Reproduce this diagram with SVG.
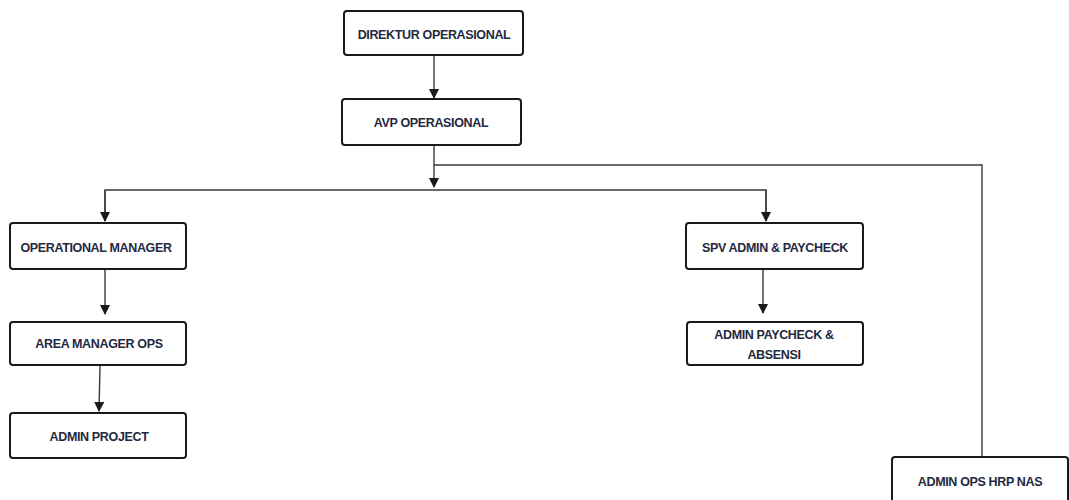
<svg xmlns="http://www.w3.org/2000/svg" width="1069" height="500" viewBox="0 0 1069 500">
<style>
.box{fill:#fff;stroke:#1a1a1a;stroke-width:2}
.t{font-family:"Liberation Sans",Arial,sans-serif;font-weight:bold;font-size:12.5px;fill:#1f2940;text-anchor:middle;letter-spacing:-0.35px}
.c{fill:none;stroke:#3a3a3a;stroke-width:1.4}
</style>
<defs>
<marker id="ah" markerWidth="10" markerHeight="10" refX="9" refY="5" orient="auto" markerUnits="userSpaceOnUse">
<path d="M0,0 L10,5 L0,10 Z" fill="#1a1a1a"/>
</marker>
</defs>
<rect width="1069" height="500" fill="#fff"/>
<g id="connectors">
<line class="c" x1="434" y1="56" x2="434" y2="98" marker-end="url(#ah)"/>
<line class="c" x1="434" y1="146" x2="434" y2="187" marker-end="url(#ah)"/>
<polyline class="c" points="434,165 982,165 982,457"/>
<polyline class="c" points="105,221 105,190 766,190 766,221"/>
<line class="c" x1="105" y1="190" x2="105" y2="221" marker-end="url(#ah)"/>
<line class="c" x1="766" y1="190" x2="766" y2="221" marker-end="url(#ah)"/>
<line class="c" x1="105" y1="270" x2="105" y2="314" marker-end="url(#ah)"/>
<line class="c" x1="100" y1="366" x2="99" y2="411" marker-end="url(#ah)"/>
<line class="c" x1="763" y1="270" x2="763" y2="313" marker-end="url(#ah)"/>
</g>
<g id="direktur">
<rect class="box" x="344" y="11" width="179" height="44" rx="3"/>
<text class="t" x="434" y="39">DIREKTUR OPERASIONAL</text>
</g>
<g id="avp">
<rect class="box" x="342" y="99" width="179" height="46" rx="3"/>
<text class="t" x="431" y="127">AVP OPERASIONAL</text>
</g>
<g id="om">
<rect class="box" x="10" y="223" width="176" height="46" rx="3"/>
<text class="t" x="96" y="252">OPERATIONAL MANAGER</text>
</g>
<g id="area">
<rect class="box" x="10" y="322" width="176" height="43" rx="3"/>
<text class="t" x="99" y="348">AREA MANAGER OPS</text>
</g>
<g id="adminproject">
<rect class="box" x="10" y="413" width="176" height="45" rx="3"/>
<text class="t" x="99" y="441">ADMIN PROJECT</text>
</g>
<g id="spv">
<rect class="box" x="686" y="223" width="177" height="46" rx="3"/>
<text class="t" x="775" y="252">SPV ADMIN &amp; PAYCHECK</text>
</g>
<g id="adminpaycheck">
<rect class="box" x="687" y="322" width="176" height="43" rx="3"/>
<text class="t" x="774" y="339">ADMIN PAYCHECK &amp;</text>
<text class="t" x="774" y="359">ABSENSI</text>
</g>
<g id="adminops">
<rect class="box" x="892" y="457" width="176" height="50" rx="3"/>
<text class="t" x="980" y="486">ADMIN OPS HRP NAS</text>
</g>
</svg>
